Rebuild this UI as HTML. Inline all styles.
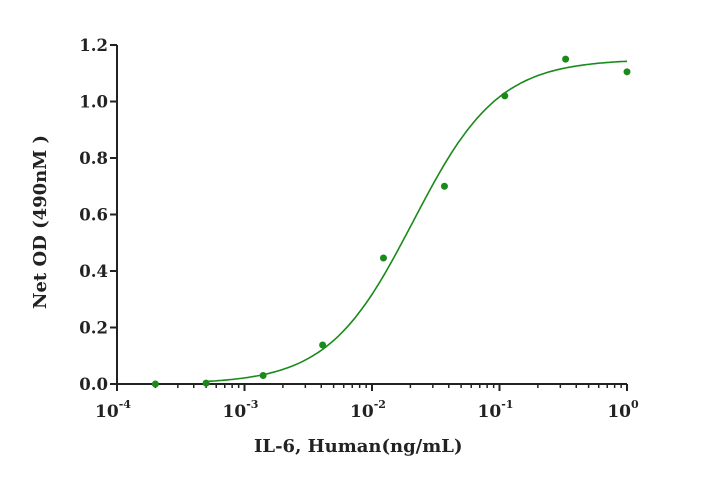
<!DOCTYPE html>
<html><head><meta charset="utf-8"><style>
body{margin:0;background:#fff;}
svg text{font-family:"DejaVu Serif","Liberation Serif",serif;font-weight:bold;fill:#222;}
</style></head><body>
<svg id="chart" width="705" height="481">
<g id="axes"></g><g id="marks"></g>
<text x="254" y="452" font-size="18">IL-6, Human(ng/mL)</text>
<text transform="translate(46,222) rotate(-90)" text-anchor="middle" font-size="18">Net OD (490nM )</text>
</svg>
<script>
const xConc=[0.0002,0.0005,0.0014,0.0041,0.0123,0.037,0.11,0.33,1.0];
const yOD=[0.0,0.003,0.03,0.138,0.446,0.70,1.02,1.15,1.105];
const yTicks=[0,0.2,0.4,0.6,0.8,1.0,1.2];
const yTickLabels=["0.0","0.2","0.4","0.6","0.8","1.0","1.2"];
const xExps=[-4,-3,-2,-1,0];
const fitBottom=0, fitTop=1.15, fitEC50=0.021, fitHill=1.3;
const ns="http://www.w3.org/2000/svg";
const X0=117,X1=627,Y0=384,Y1=45;
const xs=v=>X0+(Math.log10(v)+4)/4*(X1-X0);
const ys=v=>Y0-v/1.2*(Y0-Y1);
function mk(tag,attrs,parent){const e=document.createElementNS(ns,tag);for(const k in attrs)e.setAttribute(k,attrs[k]);parent.appendChild(e);return e;}
const ax=document.getElementById('axes'),mg=document.getElementById('marks');
let a=mk('line',{x1:X0,y1:Y1,x2:X0,y2:Y0,stroke:'#222','stroke-width':2},ax);


a=mk('line',{x1:X0,y1:Y0,x2:X1,y2:Y0,stroke:'#222','stroke-width':2},ax);


yTicks.forEach((t,i)=>{
 const y=ys(t);
 mk('line',{x1:X0-7,y1:y,x2:X0,y2:y,stroke:'#222','stroke-width':2},ax);
 const tx=mk('text',{x:X0-9,y:y+6,'text-anchor':'end','font-size':16.5},ax);
 tx.textContent=yTickLabels[i];
 
 
});
xExps.forEach((e,i)=>{
 const x=xs(Math.pow(10,e));
 mk('line',{x1:x,y1:Y0,x2:x,y2:Y0+7,stroke:'#222','stroke-width':2},ax);
 if(i<xExps.length-1){for(let k=2;k<10;k++){const xm=xs(k*Math.pow(10,e));mk('line',{x1:xm,y1:Y0,x2:xm,y2:Y0+4,stroke:'#222','stroke-width':1.5},ax);}}
 const tx=mk('text',{x:x-4,y:Y0+33,'text-anchor':'middle','font-size':17},ax);
 tx.textContent='10';
 const sp=mk('tspan',{dy:-9,'font-size':11},tx);sp.textContent=String(e);
 
 
});
let d='';
for(let i=0;i<=200;i++){const lx=Math.log10(0.0005)+i/200*(0-Math.log10(0.0005));const c=Math.pow(10,lx);
 const v=fitBottom+(fitTop-fitBottom)/(1+Math.pow(fitEC50/c,fitHill));d+=(i?'L':'M')+xs(c).toFixed(1)+','+ys(v).toFixed(1);}
const p=mk('path',{d:d,fill:'none',stroke:'#1a8a1a','stroke-width':1.6},mg);


xConc.forEach((c,i)=>{
 const pt=mk('circle',{cx:xs(c),cy:ys(yOD[i]),r:3.5,fill:'#1a8a1a'},mg);
 
 
});
</script>
</body></html>
